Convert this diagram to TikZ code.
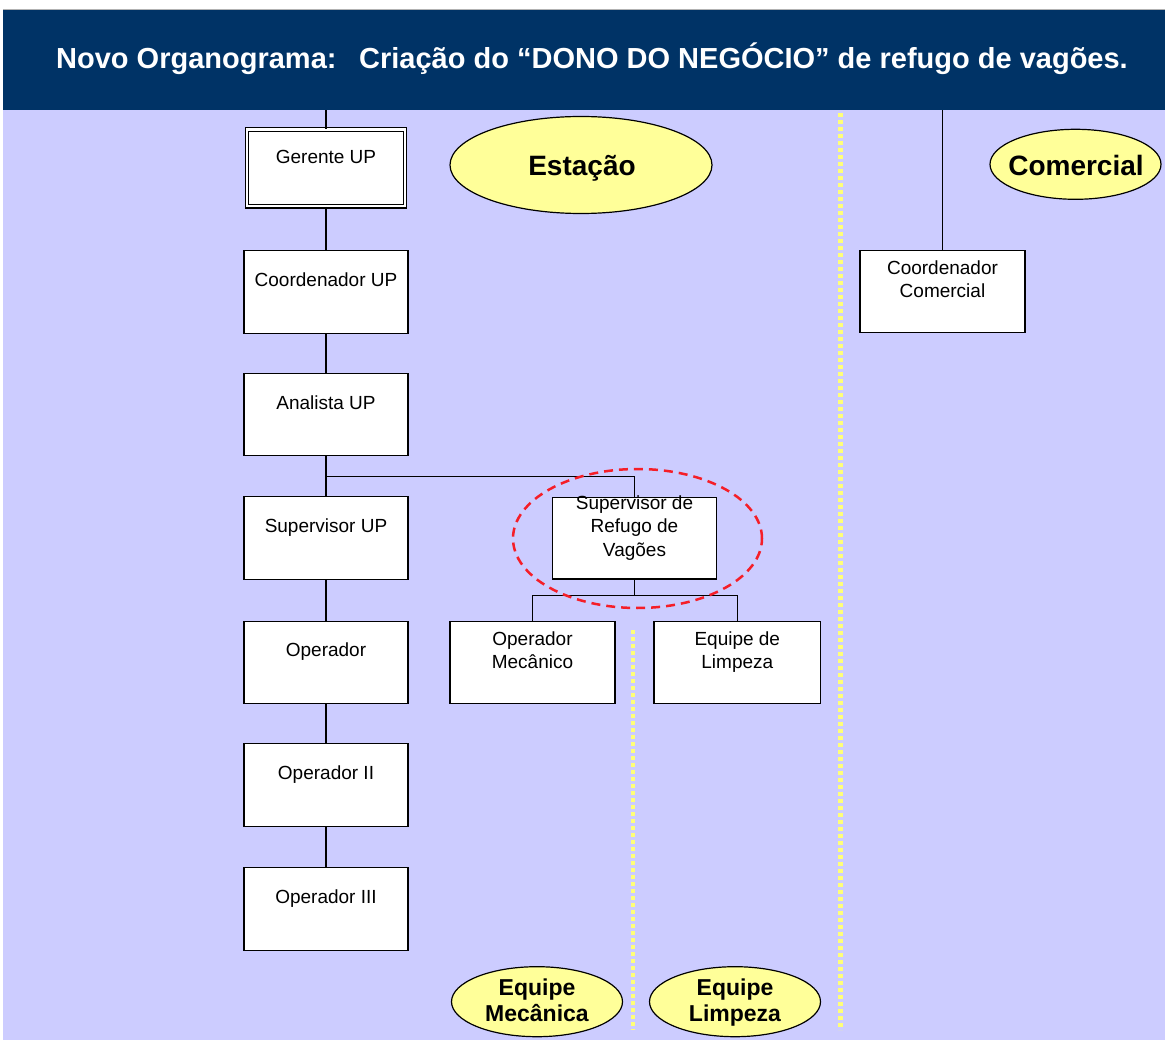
\documentclass[tikz,border=0pt]{standalone}
\usepackage{fontspec}
\setmainfont{Liberation Sans}
\usetikzlibrary{shapes.geometric,calc}
\definecolor{navy}{RGB}{0,51,102}
\definecolor{lav}{RGB}{204,204,255}
\definecolor{ylw}{RGB}{255,255,153}
\definecolor{dotyl}{RGB}{255,255,120}
\definecolor{redd}{RGB}{245,30,40}
\newcommand{\bxt}[4]{\parbox[c][#2][t]{#1}{\centering\vspace*{#3}#4}}
\tikzset{
  orgbox/.style={draw=black, fill=white, line width=1.3pt, inner sep=0pt,
    font=\fontsize{19}{22.5}\selectfont},
  tagshape/.style={draw=black, fill=ylw, line width=1.2pt},
  tagtext/.style={inner sep=0pt, align=center, font=\bfseries\fontsize{28}{27}\selectfont},
  smalltag/.style={tagtext, font=\bfseries\fontsize{23}{26.5}\selectfont},
  link/.style={draw=black, line width=1.3pt},
  ydots/.style={draw=dotyl, line width=4.5pt, dash pattern=on 4pt off 3pt},
}
\begin{document}
\begin{tikzpicture}[x=1pt, y=-1pt]
\useasboundingbox (0,0) rectangle (1165,1040);
\fill[white] (0,0) rectangle (1165,1040);
\fill[lav] (3,110) rectangle (1165,1040);
\node[fill=navy, minimum width=1162pt, minimum height=100pt, inner sep=0pt, anchor=north west] (band) at (3,10) {};
\draw[gray!60, line width=1pt] (3,9.5) -- (1165,9.5);
\node[anchor=base west, text=white, inner sep=0pt, font=\bfseries\fontsize{29}{34}\selectfont] (title) at (56,69)
  {Novo Organograma:\hspace{0.78em}Criação do “DONO DO NEGÓCIO” de refugo de vagões.};

% yellow dotted separators
\draw[ydots] (840.7,113) -- (840.7,1030);
\draw[ydots] (633,630) -- (633,1030);

% boxes
\node[orgbox, double, double distance=2.4pt, line width=1.1pt] (gerente) at (326,168) {\bxt{158pt}{76.6pt}{21pt}{Gerente UP}};
\node[orgbox] (coord) at (326,292) {\bxt{164pt}{82.6pt}{22.5pt}{Coordenador UP}};
\node[orgbox] (analista) at (326,414.5) {\bxt{164pt}{82.6pt}{22.5pt}{Analista UP}};
\node[orgbox] (supup) at (326,538) {\bxt{164pt}{82.6pt}{22pt}{Supervisor UP}};
\node[orgbox] (oper) at (326,662.5) {\bxt{164pt}{82.6pt}{22pt}{Operador}};
\node[orgbox] (oper2) at (326,785) {\bxt{164pt}{82.6pt}{22pt}{Operador II}};
\node[orgbox] (oper3) at (326,909) {\bxt{164pt}{82.6pt}{22pt}{Operador III}};
\node[orgbox] (refugo) at (634.5,538.2) {\bxt{164.4pt}{81.6pt}{-2pt}{\fontsize{19}{23.8}\selectfont Supervisor de\\Refugo de\\Vagões}};
\node[orgbox] (mec) at (532.5,662.5) {\bxt{165pt}{81.6pt}{10.5pt}{Operador\\Mecânico}};
\node[orgbox] (limp) at (737.3,662.5) {\bxt{166.7pt}{81.6pt}{10.5pt}{Equipe de\\Limpeza}};
\node[orgbox] (comerc) at (942.5,291.7) {\bxt{165pt}{82pt}{10.5pt}{Coordenador\\Comercial}};

% connectors
\draw[link] (gerente.north) -- (gerente.north |- band.south);
\draw[link] (gerente.south) -- (coord.north);
\draw[link] (coord.south) -- (analista.north);
\draw[link] (analista.south) -- (supup.north);
\draw[link] ($(analista.south)!0.5!(supup.north)$) -| (refugo.north);
\draw[link] (supup.south) -- (oper.north);
\draw[link] (oper.south) -- (oper2.north);
\draw[link] (oper2.south) -- (oper3.north);
\draw[link] (refugo.south) -- ++(0,16) coordinate (fork);
\draw[link] (fork) -| (mec.north);
\draw[link] (fork) -| (limp.north);
\draw[link] (comerc.north) -- (comerc.north |- band.south);

% tags
\draw[tagshape] (581,165) ellipse [x radius=131pt, y radius=48.5pt];
\node[tagtext] (estacao) at (582,168) {Estação};
\draw[tagshape] (1075.5,164.3) ellipse [x radius=85.5pt, y radius=35pt];
\node[tagtext] (comercial) at (1076,165.5) {Comercial};
\draw[tagshape] (537,1001.7) ellipse [x radius=85.5pt, y radius=35pt];
\node[smalltag] (eqmec) at (537,1002.5) {Equipe\\Mecânica\vphantom{p}};
\draw[tagshape] (735,1001.7) ellipse [x radius=85.5pt, y radius=35pt];
\node[smalltag] (eqlimp) at (735,1002.5) {Equipe\\Limpeza};

% highlight
\draw[redd, line width=2.5pt, dash pattern=on 9pt off 6pt] (637.5,538.5) ellipse [x radius=124.5pt, y radius=69.5pt];
\end{tikzpicture}
\end{document}
